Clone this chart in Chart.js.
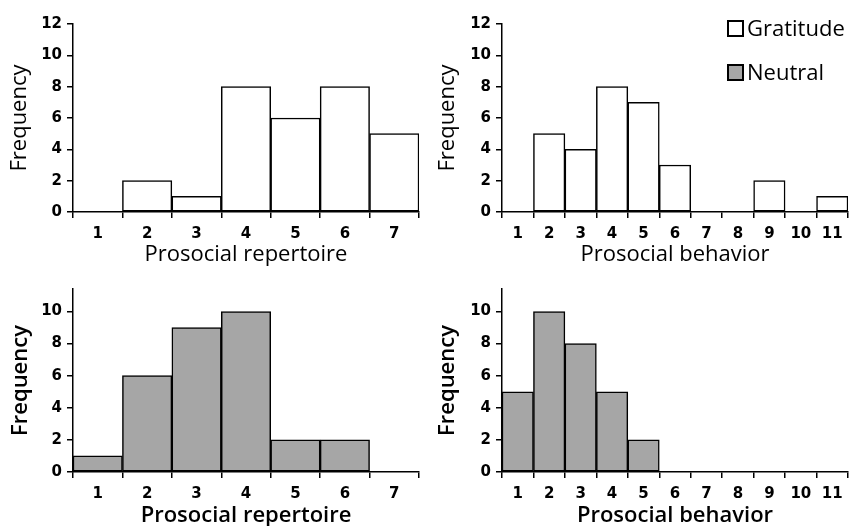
<!DOCTYPE html>
<html>
<head>
<meta charset="utf-8">
<script src="https://cdn.jsdelivr.net/npm/chart.js@4.4.1/dist/chart.umd.min.js"></script>
<style>
  body { margin: 0; background: #fff; }
  #wrap { position: relative; width: 851px; height: 526px; overflow: hidden; }
  canvas { position: absolute; }
  .leg { position: absolute; font-family: 'Open Sans', sans-serif; font-size: 22px; color: #000; line-height: 26px; white-space: nowrap; }
  .leg i { display: inline-block; width: 13px; height: 13px; border: 2px solid #000; margin-right: 3px; vertical-align: -1px; }
</style>
</head>
<body>
<div id="wrap">
  <canvas id="c1" width="425" height="268" style="left:0;top:0"></canvas>
  <canvas id="c2" width="426" height="268" style="left:425px;top:0"></canvas>
  <canvas id="c3" width="425" height="264" style="left:0;top:262px"></canvas>
  <canvas id="c4" width="426" height="264" style="left:425px;top:262px"></canvas>
  <div id="legend"></div>
</div>
<script>
// dados
const repertoireBins = ['1', '2', '3', '4', '5', '6', '7'];
const behaviorBins = ['1', '2', '3', '4', '5', '6', '7', '8', '9', '10', '11'];
const gratitudeRepertoire = [0, 2, 1, 8, 6, 8, 5];
const gratitudeBehavior = [0, 5, 4, 8, 7, 3, 0, 0, 2, 0, 1];
const neutralRepertoire = [1, 6, 9, 10, 2, 2, 0];
const neutralBehavior = [5, 10, 8, 5, 2, 0, 0, 0, 0, 0, 0];
const groupNames = ['Gratitude', 'Neutral'];
const groupColors = ['#ffffff', '#a6a6a6'];

const TITLE_FONT = "'Open Sans', sans-serif";
const TICK_FONT = "'DejaVu Sans', sans-serif";

function makeChart(id, labels, values, color, name, o) {
  return new Chart(document.getElementById(id), {
    type: 'bar',
    data: {
      labels: labels,
      datasets: [{
        label: name,
        data: values,
        backgroundColor: color,
        borderColor: '#000',
        borderWidth: 1.5,
        borderSkipped: false,
        barPercentage: 1,
        categoryPercentage: 1
      }]
    },
    options: {
      responsive: false,
      animation: false,
      layout: { padding: { left: 0, right: o.right, top: o.top, bottom: 0 } },
      plugins: { legend: { display: false }, tooltip: { enabled: false } },
      scales: {
        x: {
          offset: true,
          grid: { offset: true, drawOnChartArea: false, color: '#000', lineWidth: 1.5, tickLength: 6 },
          border: { color: '#000', width: 1.5 },
          ticks: { color: '#000', padding: 7, font: { family: TICK_FONT, size: 15, weight: 'bold' }, maxRotation: 0, autoSkip: false },
          title: { display: true, text: o.xTitle, color: '#000', padding: { top: 0, bottom: o.titlePad }, font: { family: TITLE_FONT, size: 22, weight: o.titleWeight } },
          afterFit: s => { s.height = o.xHeight; }
        },
        y: {
          min: 0,
          max: o.yMax,
          grid: { drawOnChartArea: false, color: '#000', lineWidth: 1.5, tickLength: 6 },
          border: { color: '#000', width: 1.5 },
          ticks: { stepSize: 2, color: '#000', padding: 5, font: { family: TICK_FONT, size: 15, weight: 'bold' } },
          afterBuildTicks: s => { s.ticks = s.ticks.filter(t => t.value % 2 === 0); },
          title: { display: true, text: 'Frequency', color: '#000', padding: { top: o.yTitlePad, bottom: 0 }, font: { family: TITLE_FONT, size: 22, weight: o.titleWeight } },
          afterFit: s => { s.width = o.yWidth; }
        }
      }
    }
  });
}

makeChart('c1', repertoireBins, gratitudeRepertoire, groupColors[0], groupNames[0],
  { right: 6, top: 24, xHeight: 56, yWidth: 73, yMax: 12, xTitle: 'Prosocial repertoire', titlePad: 0, yTitlePad: 7, titleWeight: '500' });
makeChart('c2', behaviorBins, gratitudeBehavior, groupColors[0], groupNames[0],
  { right: 3, top: 24, xHeight: 56, yWidth: 77, yMax: 12, xTitle: 'Prosocial behavior', titlePad: 0, yTitlePad: 10, titleWeight: '500' });
makeChart('c3', repertoireBins, neutralRepertoire, groupColors[1], groupNames[1],
  { right: 6, top: 27, xHeight: 54, yWidth: 73, yMax: 11.4, xTitle: 'Prosocial repertoire', titlePad: -3, yTitlePad: 8, titleWeight: '600' });
makeChart('c4', behaviorBins, neutralBehavior, groupColors[1], groupNames[1],
  { right: 3, top: 27, xHeight: 54, yWidth: 77, yMax: 11.4, xTitle: 'Prosocial behavior', titlePad: -3, yTitlePad: 10, titleWeight: '600' });

// legenda
const legend = document.getElementById('legend');
groupNames.forEach((n, i) => {
  const d = document.createElement('div');
  d.className = 'leg';
  d.style.left = '727px';
  d.style.top = (14 + i * 44) + 'px';
  d.innerHTML = '<i style="background:' + groupColors[i] + '"></i>' + n;
  legend.appendChild(d);
});
</script>
</body>
</html>
